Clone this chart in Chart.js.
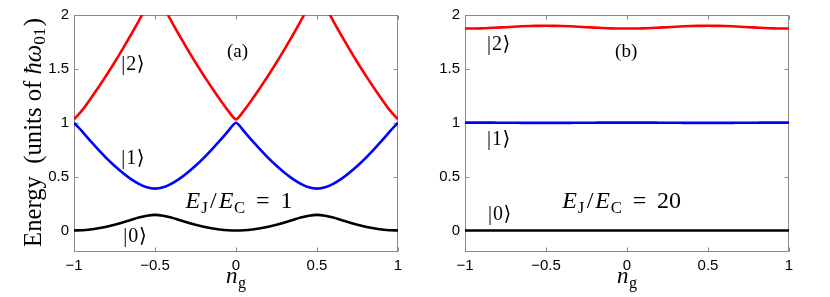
<!DOCTYPE html>
<html>
<head>
<meta charset="utf-8">
<script src="https://cdn.jsdelivr.net/npm/chart.js@4.4.1/dist/chart.umd.min.js"></script>
<style>
  html, body { margin: 0; padding: 0; background: #fff; }
  #wrap { position: relative; width: 830px; height: 297px; }
  canvas { position: absolute; top: 0; }
</style>
</head>
<body>
<div id="wrap">
  <canvas id="chartA" width="415" height="297" style="left:0"></canvas>
  <canvas id="chartB" width="415" height="297" style="left:415px"></canvas>
</div>
<script>
// gate charge axis, shared by every curve
const ngValues = [-1, -0.95, -0.9, -0.85, -0.8, -0.75, -0.7, -0.65, -0.6, -0.55, -0.5,
  -0.45, -0.4, -0.35, -0.3, -0.25, -0.2, -0.15, -0.1, -0.05, 0,
  0.05, 0.1, 0.15, 0.2, 0.25, 0.3, 0.35, 0.4, 0.45, 0.5,
  0.55, 0.6, 0.65, 0.7, 0.75, 0.8, 0.85, 0.9, 0.95, 1];

// (a) EJ/EC = 1
const level0A = [0, 0.002, 0.009, 0.020, 0.034, 0.052, 0.074, 0.097, 0.120, 0.137, 0.145,
  0.137, 0.120, 0.097, 0.074, 0.052, 0.034, 0.020, 0.009, 0.002, 0,
  0.002, 0.009, 0.020, 0.034, 0.052, 0.074, 0.097, 0.120, 0.137, 0.145,
  0.137, 0.120, 0.097, 0.074, 0.052, 0.034, 0.020, 0.009, 0.002, 0];
const level1A = [1.000, 0.920, 0.833, 0.750, 0.672, 0.601, 0.536, 0.479, 0.433, 0.400, 0.388,
  0.400, 0.433, 0.479, 0.536, 0.601, 0.672, 0.750, 0.833, 0.920, 1.000,
  0.920, 0.833, 0.750, 0.672, 0.601, 0.536, 0.479, 0.433, 0.400, 0.388,
  0.400, 0.433, 0.479, 0.536, 0.601, 0.672, 0.750, 0.833, 0.920, 1.000];
const level2A = [1.031, 1.115, 1.218, 1.327, 1.441, 1.559, 1.683, 1.812, 1.946, 2.084, 2.228,
  2.084, 1.946, 1.812, 1.683, 1.559, 1.441, 1.327, 1.218, 1.115, 1.031,
  1.115, 1.218, 1.327, 1.441, 1.559, 1.683, 1.812, 1.946, 2.084, 2.228,
  2.084, 1.946, 1.812, 1.683, 1.559, 1.441, 1.327, 1.218, 1.115, 1.031];

// (b) EJ/EC = 20
const level0B = [0, 0, 0, 0, 0, 0, 0, 0, 0, 0, 0,
  0, 0, 0, 0, 0, 0, 0, 0, 0, 0,
  0, 0, 0, 0, 0, 0, 0, 0, 0, 0,
  0, 0, 0, 0, 0, 0, 0, 0, 0, 0];
const level1B = [1.001, 1.001, 1.001, 1.001, 1.000, 1.000, 1.000, 0.999, 0.999, 0.999, 0.999,
  0.999, 0.999, 0.999, 1.000, 1.000, 1.000, 1.001, 1.001, 1.001, 1.001,
  1.001, 1.001, 1.001, 1.000, 1.000, 1.000, 0.999, 0.999, 0.999, 0.999,
  0.999, 0.999, 0.999, 1.000, 1.000, 1.000, 1.001, 1.001, 1.001, 1.001];
const level2B = [1.874, 1.875, 1.876, 1.879, 1.883, 1.887, 1.891, 1.895, 1.898, 1.899, 1.900,
  1.899, 1.898, 1.895, 1.891, 1.887, 1.883, 1.879, 1.876, 1.875, 1.874,
  1.875, 1.876, 1.879, 1.883, 1.887, 1.891, 1.895, 1.898, 1.899, 1.900,
  1.899, 1.898, 1.895, 1.891, 1.887, 1.883, 1.879, 1.876, 1.875, 1.874];

const xTicks = [-1, -0.5, 0, 0.5, 1];
const yTicks = [0, 0.5, 1, 1.5, 2];

const SERIF = '"Liberation Serif", "DejaVu Serif", serif';
const SANS = '"Liberation Sans", Arial, sans-serif';

// text runs: t = text, it = italic, sub = subscript, dx = gap before (em)
function ket(n) {
    return [{ t: '|' }, { t: n, dx: 0.05 }, { t: '\u27E9', dx: 0.03 }];
}
function ratio(v) {
    return [
        { t: 'E', it: true }, { t: 'J', sub: true, dx: 0.04 },
        { t: '/', dx: 0.1 }, { t: 'E', it: true, dx: 0.08 }, { t: 'C', sub: true, dx: 0.03 },
        { t: '=', dx: 0.45 }, { t: v, dx: 0.45 }
    ];
}

// annotation anchors: x = centre (ng), y = baseline (energy)
const notesA = [
    { x: -0.636, y: 1.489, size: 20, runs: ket('2') },
    { x: 0.009, y: 1.614, size: 19, runs: [{ t: '(a)' }] },
    { x: -0.636, y: 0.615, size: 20, runs: ket('1') },
    { x: 0.0185, y: 0.204, size: 24, runs: ratio('1') },
    { x: -0.623, y: -0.11, size: 20, runs: ket('0') }
];
const notesB = [
    { x: -0.792, y: 1.675, size: 20, runs: ket('2') },
    { x: -0.005, y: 1.614, size: 19, runs: [{ t: '(b)' }] },
    { x: -0.792, y: 0.792, size: 20, runs: ket('1') },
    { x: -0.033, y: 0.204, size: 24, runs: ratio('20') },
    { x: -0.786, y: 0.095, size: 20, runs: ket('0') }
];

function runFont(r, size) {
    const s = r.sub ? size * 0.7 : size;
    return (r.it ? 'italic ' : '') + s + 'px ' + SERIF;
}

function runsWidth(ctx, runs, size) {
    let w = 0;
    runs.forEach(r => {
        ctx.font = runFont(r, size);
        w += (r.dx || 0) * size + ctx.measureText(r.t).width;
    });
    return w;
}

function drawRuns(ctx, runs, x, y, size) {
    ctx.textBaseline = 'alphabetic';
    ctx.textAlign = 'left';
    runs.forEach(r => {
        ctx.font = runFont(r, size);
        x += (r.dx || 0) * size;
        ctx.fillText(r.t, x, r.sub ? y + size * 0.2 : y);
        x += ctx.measureText(r.t).width;
    });
}

function fmt(v) {
    return v < 0 ? '\u2212' + Math.abs(v) : String(v);
}

const frame = {
    id: 'frame',
    beforeDatasetsDraw(chart) {
        const { ctx, chartArea: a, scales: { x, y } } = chart;
        const L = Math.round(a.left) + 0.5, R = Math.round(a.right) - 0.5;
        const T = Math.round(a.top) + 0.5, B = Math.round(a.bottom) - 0.5;
        ctx.save();
        ctx.strokeStyle = '#8a8a8a';
        ctx.lineWidth = 1;
        ctx.strokeRect(L, T, R - L, B - T);
        ctx.beginPath();
        xTicks.forEach(v => {
            const px = Math.round(x.getPixelForValue(v)) + 0.5;
            ctx.moveTo(px, B); ctx.lineTo(px, B - 4);
            ctx.moveTo(px, T); ctx.lineTo(px, T + 4);
        });
        yTicks.forEach(v => {
            const py = Math.round(y.getPixelForValue(v)) + 0.5;
            ctx.moveTo(L, py); ctx.lineTo(L + 4, py);
            ctx.moveTo(R, py); ctx.lineTo(R - 4, py);
        });
        ctx.stroke();
        ctx.restore();
    }
};

function makeChart(id, levels, notes, yWidth, rightPad, withYTitle) {
    const colors = ['#000000', '#0000ff', '#ff0000'];
    const datasets = levels.map((lv, k) => ({
        data: ngValues.map((n, i) => ({ x: n, y: lv[i] })),
        borderColor: colors[k],
        borderWidth: 2.6,
        pointRadius: 0,
        tension: 0.25,
        clip: 0,
        borderJoinStyle: 'round'
    }));

    const texts = {
        id: 'texts',
        afterDatasetsDraw(chart) {
            const { ctx, scales: { x, y }, chartArea: a } = chart;
            ctx.save();
            ctx.fillStyle = '#000';
            notes.forEach(n => {
                const w = runsWidth(ctx, n.runs, n.size);
                drawRuns(ctx, n.runs, x.getPixelForValue(n.x) - w / 2, y.getPixelForValue(n.y), n.size);
            });
            // x axis title: n_g
            const xt = [{ t: 'n', it: true }, { t: 'g', sub: true, dx: 0.02 }];
            const xw = runsWidth(ctx, xt, 23);
            drawRuns(ctx, xt, (a.left + a.right) / 2 - xw / 2, 283, 23);
            if (withYTitle) {
                const yt = [{ t: 'Energy  (units of ' }, { t: '\u0127\u03C9', it: true },
                    { t: '01', sub: true }, { t: ')', dx: 0.05 }];
                let size = 20;
                size = size * 229 / runsWidth(ctx, yt, size);
                const yw = runsWidth(ctx, yt, size);
                ctx.translate(40.5, 132.5);
                ctx.rotate(-Math.PI / 2);
                drawRuns(ctx, yt, -yw / 2, 0, size);
            }
            ctx.restore();
        }
    };

    return new Chart(document.getElementById(id), {
        type: 'line',
        data: { datasets: datasets },
        options: {
            responsive: false,
            animation: false,
            devicePixelRatio: 1,
            layout: { padding: { top: 15, right: rightPad, left: 0, bottom: 0 } },
            plugins: { legend: { display: false }, tooltip: { enabled: false } },
            scales: {
                x: {
                    type: 'linear', min: -1, max: 1,
                    afterBuildTicks: s => { s.ticks = xTicks.map(v => ({ value: v })); },
                    afterFit: s => { s.height = 45; },
                    grid: { display: false, drawTicks: false, tickLength: 0 },
                    border: { display: false },
                    ticks: {
                        color: '#000', padding: 5, maxRotation: 0, autoSkip: false,
                        font: { family: SANS, size: 15 },
                        callback: v => fmt(v)
                    }
                },
                y: {
                    type: 'linear', min: -0.2, max: 2,
                    afterBuildTicks: s => { s.ticks = yTicks.map(v => ({ value: v })); },
                    afterFit: s => { s.width = yWidth; },
                    grid: { display: false, drawTicks: false, tickLength: 0 },
                    border: { display: false },
                    ticks: {
                        color: '#000', padding: 5, autoSkip: false,
                        font: { family: SANS, size: 15 },
                        callback: v => fmt(v)
                    }
                }
            }
        },
        plugins: [frame, texts]
    });
}

makeChart('chartA', [level0A, level1A, level2A], notesA, 74, 17, true);
makeChart('chartB', [level0B, level1B, level2B], notesB, 50, 41, false);
</script>
</body>
</html>
